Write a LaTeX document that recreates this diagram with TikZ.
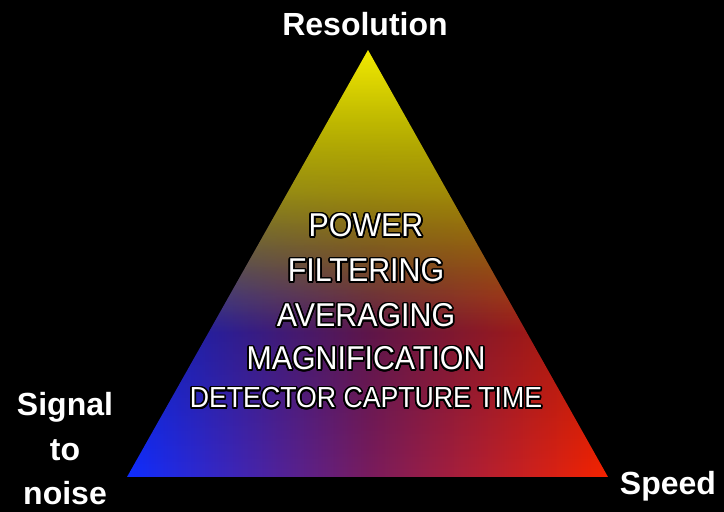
\documentclass[tikz,border=0pt]{standalone}
\usepackage{fontspec}
\setmainfont{Liberation Sans}
\newfontfamily\innerfont{Liberation Sans}[FakeStretch=0.92]
\usepackage{contour}
\contourlength{1.7pt}
\usetikzlibrary{fadings}
\definecolor{ylw}{RGB}{242,234,0}
\definecolor{blu}{RGB}{15,45,255}
\definecolor{pur}{RGB}{120,28,95}
\definecolor{rd}{RGB}{245,35,0}
\tikzfading[name=yfade, top color=transparent!0, bottom color=transparent!100, middle color=transparent!42]
\tikzfading[name=bfade, top color=transparent!100, bottom color=transparent!0, middle color=transparent!28]
\tikzset{
  corner/.style={text=white, font=\bfseries\fontsize{32}{38}\selectfont, anchor=base, inner sep=0pt},
  factor/.style={text=white, font=\innerfont\fontsize{33}{40}\selectfont, anchor=base, inner sep=0pt},
  factorsmall/.style={factor, font=\innerfont\fontsize{29}{35}\selectfont}
}
\begin{document}
\begin{tikzpicture}[x=1pt,y=1pt]
\fill[black] (0,0) rectangle (724,512);
\useasboundingbox (0,0) rectangle (724,512);
\coordinate (T) at (368,462);
\coordinate (L) at (127,35);
\coordinate (R) at (608,35);
\begin{scope}
  \clip (T) -- (L) -- (R) -- cycle;
  \fill[black] (127,35) rectangle (608,462);
  \shade[left color=blu, right color=rd, middle color=pur, path fading=bfade] (127,35) rectangle (608,398);
  \fill[ylw, path fading=yfade] (127,180) rectangle (608,462);
\end{scope}
% corner labels
\node[corner] (res) at (365,476) {Resolution};
\node[corner] (spd) at (668,17) {Speed};
\node[corner] (sig1) at (65,96) {Signal};
\node[corner] (sig2) at (65,51) {to};
\node[corner] (sig3) at (65,7) {noise};
% factors
\node[factor] (p1) at (366,275) {\contour{black}{POWER}};
\node[factor] (p2) at (366,230) {\contour{black}{FILTERING}};
\node[factor] (p3) at (366,185) {\contour{black}{AVERAGING}};
\node[factor] (p4) at (366,142) {\contour{black}{MAGNIFICATION}};
\node[factorsmall] (p5) at (366,104) {\contour{black}{DETECTOR CAPTURE TIME}};
\end{tikzpicture}
\end{document}
